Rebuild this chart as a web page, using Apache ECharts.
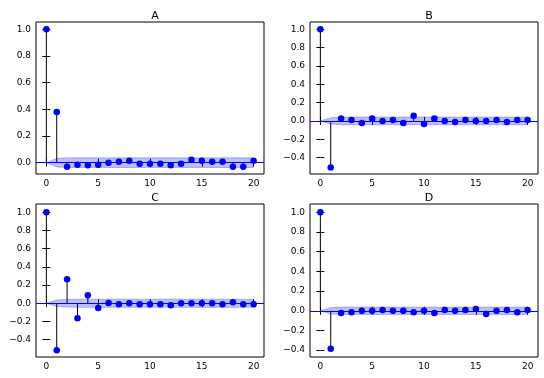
<!DOCTYPE html>
<html>
<head>
<meta charset="utf-8">
<script src="https://cdn.jsdelivr.net/npm/echarts@6/dist/echarts.min.js"></script>
<style>
  html, body { margin: 0; padding: 0; background: #fff; }
  #chart { width: 544px; height: 378px; }
</style>
</head>
<body>
<div id="chart"></div>
<script>
// lags and autocorrelation values
const lags = [0, 1, 2, 3, 4, 5, 6, 7, 8, 9, 10, 11, 12, 13, 14, 15, 16, 17, 18, 19, 20];
const titles = ['A', 'B', 'C', 'D'];

const acfA = [1.0, 0.38, -0.03, -0.015, -0.02, -0.015, 0.0, 0.007, 0.015, -0.008, -0.008, -0.008, -0.02, -0.008, 0.022, 0.015, 0.007, 0.007, -0.03, -0.03, 0.015];
const acfB = [1.0, -0.51, 0.026, 0.011, -0.022, 0.026, 0.0, 0.011, -0.022, 0.055, -0.033, 0.026, 0.0, -0.011, 0.011, 0.0, 0.0, 0.011, -0.011, 0.011, 0.011];
const acfC = [1.0, -0.515, 0.263, -0.164, 0.088, -0.051, 0.003, -0.011, 0.0, -0.011, -0.011, -0.011, -0.022, 0.0, 0.0, 0.0, 0.0, -0.011, 0.011, -0.011, -0.011];
const acfD = [1.0, -0.385, -0.024, -0.014, 0.0, 0.0, 0.007, 0.0, 0.0, -0.014, 0.0, -0.024, 0.007, 0.0, 0.007, 0.017, -0.034, 0.0, 0.007, -0.014, 0.007];

// half width of the confidence band at each lag
const bandA = [0, 0.032, 0.036, 0.036, 0.036, 0.036, 0.036, 0.036, 0.036, 0.036, 0.036, 0.036, 0.036, 0.036, 0.036, 0.036, 0.036, 0.036, 0.036, 0.036, 0.036];
const bandB = [0, 0.035, 0.042, 0.042, 0.042, 0.042, 0.042, 0.042, 0.042, 0.042, 0.042, 0.042, 0.042, 0.042, 0.042, 0.042, 0.042, 0.042, 0.042, 0.042, 0.042];
const bandC = [0, 0.035, 0.042, 0.045, 0.045, 0.045, 0.045, 0.045, 0.045, 0.045, 0.045, 0.045, 0.045, 0.045, 0.045, 0.045, 0.045, 0.045, 0.045, 0.045, 0.045];
const bandD = [0, 0.033, 0.037, 0.037, 0.037, 0.037, 0.037, 0.037, 0.037, 0.037, 0.037, 0.037, 0.037, 0.037, 0.037, 0.037, 0.037, 0.037, 0.037, 0.037, 0.037];

const xTicks = [0, 5, 10, 15, 20];
const yTicksA = [0.0, 0.2, 0.4, 0.6, 0.8, 1.0];
const yTicksB = [-0.4, -0.2, 0.0, 0.2, 0.4, 0.6, 0.8, 1.0];
const yTicksC = [-0.4, -0.2, 0.0, 0.2, 0.4, 0.6, 0.8, 1.0];
const yTicksD = [-0.4, -0.2, 0.0, 0.2, 0.4, 0.6, 0.8, 1.0];

const yRanges = [[-0.085, 1.055], [-0.58, 1.08], [-0.59, 1.09], [-0.47, 1.085]];

const panels = [
  { acf: acfA, band: bandA, yTicks: yTicksA, grid: { left: 36, top: 22, width: 228, height: 152 } },
  { acf: acfB, band: bandB, yTicks: yTicksB, grid: { left: 310, top: 22, width: 228, height: 152 } },
  { acf: acfC, band: bandC, yTicks: yTicksC, grid: { left: 36, top: 204, width: 228, height: 153 } },
  { acf: acfD, band: bandD, yTicks: yTicksD, grid: { left: 310, top: 204, width: 228, height: 153 } },
];

const font = 'DejaVu Sans';
const blue = '#0000ff';
const bandColor = 'rgba(0,0,255,0.25)';
const fmt = (v) => Number(v).toFixed(1).replace('-', '\u2212');

const grid = [];
const xAxis = [];
const yAxis = [];
const title = [];
const series = [];

panels.forEach((p, i) => {
  grid.push({ ...p.grid, show: true, borderColor: '#000', borderWidth: 1, containLabel: false });
  title.push({
    text: titles[i],
    left: p.grid.left + p.grid.width / 2,
    top: p.grid.top - 16,
    textAlign: 'center',
    textStyle: { fontFamily: font, fontSize: 11, fontWeight: 'normal', color: '#000' },
  });

  const tick = { show: true, inside: true, length: 4, lineStyle: { color: '#000', width: 1 } };
  const xCommon = { type: 'value', gridIndex: i, min: -1, max: 21, axisLine: { show: false }, splitLine: { show: false } };
  const yCommon = { type: 'value', gridIndex: i, min: yRanges[i][0], max: yRanges[i][1], axisLine: { show: false }, splitLine: { show: false } };

  xAxis.push({
    ...xCommon, position: 'bottom',
    axisTick: { ...tick, customValues: xTicks },
    axisLabel: { customValues: xTicks, color: '#000', fontFamily: font, fontSize: 9, margin: 5 },
  });
  xAxis.push({
    ...xCommon, position: 'top',
    axisTick: { ...tick, customValues: xTicks },
    axisLabel: { show: false },
  });
  yAxis.push({
    ...yCommon, position: 'left',
    axisTick: { ...tick, customValues: p.yTicks },
    axisLabel: { customValues: p.yTicks, formatter: fmt, color: '#000', fontFamily: font, fontSize: 9, margin: 5 },
  });
  yAxis.push({
    ...yCommon, position: 'right',
    axisTick: { ...tick, customValues: p.yTicks },
    axisLabel: { show: false },
  });

  const xi = i * 2, yi = i * 2;

  // stems
  series.push({
    type: 'bar', xAxisIndex: xi, yAxisIndex: yi, barWidth: 1,
    itemStyle: { color: '#000' }, z: 2,
    data: lags.map((l, k) => [l, p.acf[k]]),
  });
  // markers + zero line
  series.push({
    type: 'scatter', xAxisIndex: xi, yAxisIndex: yi, symbolSize: 6.5,
    itemStyle: { color: blue, opacity: 1 }, z: 3,
    data: lags.map((l, k) => [l, p.acf[k]]),
    markLine: {
      silent: true, symbol: 'none', label: { show: false },
      lineStyle: { color: blue, width: 1, type: 'solid' },
      data: [{ yAxis: 0 }],
    },
  });
  // confidence band, upper and lower halves
  [1, -1].forEach((s) => {
    series.push({
      type: 'line', xAxisIndex: xi, yAxisIndex: yi, symbol: 'none', z: 4,
      lineStyle: { color: bandColor, width: 1 },
      areaStyle: { color: bandColor, opacity: 1, origin: 0 },
      data: lags.map((l, k) => [l, s * p.band[k]]),
    });
  });
});

const chart = echarts.init(document.getElementById('chart'));
chart.setOption({
  animation: false,
  backgroundColor: '#fff',
  title, grid, xAxis, yAxis, series,
});
</script>
</body>
</html>
